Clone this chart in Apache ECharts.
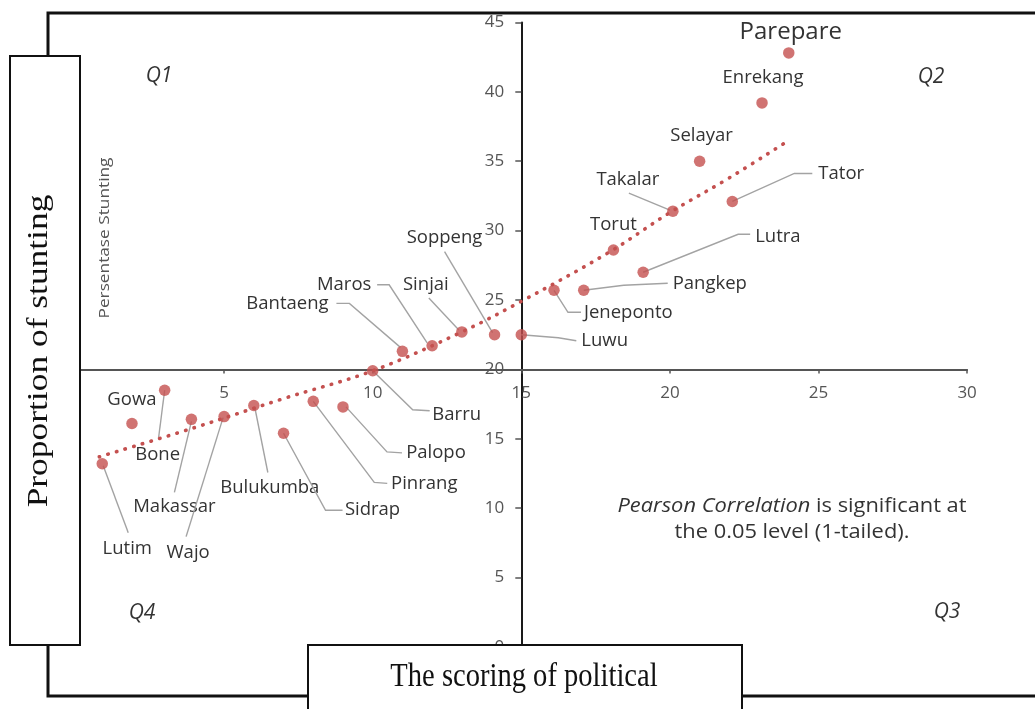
<!DOCTYPE html>
<html>
<head>
<meta charset="utf-8">
<title>Political scoring and stunting</title>
<script src="https://cdn.jsdelivr.net/npm/echarts@6/dist/echarts.min.js"></script>
<style>
  html, body { margin: 0; padding: 0; background: #ffffff; }
  #chart { width: 1035px; height: 709px; }
</style>
</head>
<body>
<div id="chart"></div>
<script>
// District names with their political score (x) and stunting percentage (y)
const districts = ['Lutim', 'Gowa', 'Bone', 'Makassar', 'Wajo', 'Bulukumba', 'Sidrap', 'Pinrang',
  'Palopo', 'Barru', 'Bantaeng', 'Maros', 'Sinjai', 'Soppeng', 'Luwu', 'Jeneponto', 'Pangkep',
  'Torut', 'Lutra', 'Takalar', 'Selayar', 'Tator', 'Enrekang', 'Parepare'];
const politicalScore = [0.9, 1.9, 3.0, 3.9, 5.0, 6.0, 7.0, 8.0, 9.0, 10.0, 11.0, 12.0, 13.0, 14.1,
  15.0, 16.1, 17.1, 18.1, 19.1, 20.1, 21.0, 22.1, 23.1, 24.0];
const stuntingPct = [13.2, 16.1, 18.5, 16.4, 16.6, 17.4, 15.4, 17.7, 17.3, 19.9, 21.3, 21.7, 22.7,
  22.5, 22.5, 25.7, 25.7, 28.6, 27.0, 31.4, 35.0, 32.1, 39.2, 42.8];

// Trend curve sampled along the fitted line
const trendX = [0.8, 4, 7, 10, 13, 15, 18, 20, 22, 24];
const trendY = [13.7, 15.8, 17.9, 19.9, 22.7, 24.9, 28.5, 31.3, 33.8, 36.5];

// Axis scales
const xTicks = [0, 5, 10, 15, 20, 25, 30];
const yTicks = [0, 5, 10, 15, 20, 25, 30, 35, 40, 45];
const xCross = 15;   // where the vertical axis sits
const yCross = 20;   // where the horizontal axis sits

// Annotation text
const quadrantLabels = ['Q1', 'Q2', 'Q3', 'Q4'];
const noteItalic = 'Pearson Correlation';
const noteRest = ' is significant at';
const noteLine2 = 'the 0.05 level (1-tailed).';
const yTitle = 'Proportion of stunting';
const yInnerTitle = 'Persentase Stunting';
const xTitle = 'The scoring of political';

// Label placement (pixel offsets from each point) and leader polylines
const labelLayout = {
  Parepare:  { at: [2, -21], size: 24 },
  Enrekang:  { at: [1, -25] },
  Selayar:   { at: [2, -25] },
  Takalar:   { at: [-45, -31], leader: [[-44, -18], [-3, -1]] },
  Tator:     { at: [86, -28], align: 'left', leader: [[0, 0], [62, -28], [80, -28]] },
  Torut:     { at: [0, -25] },
  Lutra:     { at: [112, -36], align: 'left', leader: [[0, 0], [95, -38], [107, -38]] },
  Pangkep:   { at: [89, -7], align: 'left', leader: [[0, 0], [40, -5], [84, -7]] },
  Jeneponto: { at: [30, 22], align: 'left', leader: [[0, 0], [14, 22], [27, 22]] },
  Luwu:      { at: [60, 6], align: 'left', leader: [[0, 0], [37, 3], [55, 6]] },
  Soppeng:   { at: [-50, -97], leader: [[-50, -83], [-2, -2]] },
  Sinjai:    { at: [-36, -47], leader: [[-33, -34], [-3, -2]] },
  Maros:     { at: [-88, -61], leader: [[-55, -61], [-43, -61], [-5, -3]] },
  Bantaeng:  { at: [-115, -48], leader: [[-66, -48], [-53, -48], [-2, -4]] },
  Barru:     { at: [84, 44], leader: [[0, 0], [40, 39], [57, 40]] },
  Palopo:    { at: [93, 46], leader: [[3, 0], [44, 45], [59, 46]] },
  Pinrang:   { at: [111, 82], leader: [[0, 0], [61, 81], [74, 82]] },
  Sidrap:    { at: [89, 76], leader: [[0, 0], [42, 77], [59, 77]] },
  Bulukumba: { at: [16, 82], leader: [[1, 2], [14, 67]] },
  Makassar:  { at: [-17, 87], leader: [[0, 2], [-17, 73]] },
  Wajo:      { at: [-36, 136], leader: [[-1, 1], [-38, 120]] },
  Lutim:     { at: [25, 85], leader: [[1, 2], [26, 69]] },
  Gowa:      { at: [0, -24] },
  Bone:      { at: [-7, 65], leader: [[0, 0], [-6, 47]] }
};

const SANS = "'Open Sans', 'DejaVu Sans', sans-serif";
const SERIF = "'Liberation Serif', 'DejaVu Serif', serif";
const RED = '#C4504F';

const chart = echarts.init(document.getElementById('chart'), null, { renderer: 'canvas' });

const gridLeft = 75.5, gridTop = 22.4, gridW = 891.6, gridH = 624.6;
const xMin = xTicks[0], xMax = xTicks[xTicks.length - 1];
const yMin = yTicks[0], yMax = yTicks[yTicks.length - 1];
// shift each axis from the grid edge onto the crossing value
const xAxisOffset = -gridH * (yCross - yMin) / (yMax - yMin);
const yAxisOffset = -gridW * (xCross - xMin) / (xMax - xMin);

const points = districts.map((d, i) => [politicalScore[i], stuntingPct[i], i]);

const quadrantText = (label, x, y) => ({
  type: 'text', z: 5, x: x, y: y,
  style: { text: label, align: 'center', verticalAlign: 'middle', font: 'italic 21px ' + SANS, fill: '#333333' }
});

const option = {
  animation: false,
  backgroundColor: '#ffffff',
  grid: { left: gridLeft, top: gridTop, width: gridW, height: gridH, containLabel: false, outerBoundsMode: 'none' },
  xAxis: {
    type: 'value', min: xMin, max: xMax, interval: xTicks[1] - xTicks[0],
    position: 'bottom', offset: xAxisOffset,
    splitLine: { show: false },
    axisLine: { show: true, lineStyle: { color: '#555555', width: 2 } },
    axisTick: { show: true, length: 4, lineStyle: { color: '#555555', width: 1.5 } },
    axisLabel: { show: true, showMinLabel: false, margin: 15, color: '#555555', fontFamily: SANS, fontSize: 17 }
  },
  yAxis: {
    type: 'value', min: yMin, max: yMax, interval: yTicks[1] - yTicks[0],
    position: 'left', offset: yAxisOffset,
    splitLine: { show: false },
    axisLine: { show: true, lineStyle: { color: '#1a1a1a', width: 2 } },
    axisTick: { show: true, length: 6, lineStyle: { color: '#555555', width: 1.5 } },
    axisLabel: { show: true, margin: 17, color: '#555555', fontFamily: SANS, fontSize: 17 }
  },
  series: [
    {
      // leader lines and district names
      type: 'custom',
      z: 1,
      clip: false,
      silent: true,
      encode: { x: 0, y: 1 },
      data: points,
      renderItem: function (params, api) {
        const idx = api.value(2);
        const name = districts[idx];
        const lay = labelLayout[name] || { at: [0, -22] };
        const p = api.coord([api.value(0), api.value(1)]);
        const children = [];
        if (lay.leader) {
          children.push({
            type: 'polyline',
            shape: { points: lay.leader.map(d => [p[0] + d[0], p[1] + d[1]]) },
            style: { stroke: '#a3a3a3', lineWidth: 1.4, fill: null }
          });
        }
        children.push({
          type: 'text',
          x: p[0] + lay.at[0],
          y: p[1] + lay.at[1],
          style: {
            text: name,
            align: lay.align || 'center',
            verticalAlign: 'middle',
            font: (lay.size || 18.5) + 'px ' + SANS,
            fill: '#333333'
          }
        });
        return { type: 'group', children: children };
      }
    },
    {
      type: 'line',
      z: 2,
      silent: true,
      data: trendX.map((x, i) => [x, trendY[i]]),
      showSymbol: false,
      smooth: 0.35,
      lineStyle: { color: RED, width: 3.6, type: [0.5, 8.5], cap: 'round' }
    },
    {
      type: 'scatter',
      z: 3,
      silent: true,
      data: points,
      encode: { x: 0, y: 1 },
      symbol: 'circle',
      symbolSize: 11.5,
      itemStyle: { color: RED }
    }
  ],
  graphic: [
    // outer frame
    { type: 'rect', z: 0, silent: true,
      shape: { x: 48, y: 13, width: 1010, height: 683 },
      style: { fill: null, stroke: '#111111', lineWidth: 3 } },
    // quadrant names
    quadrantText(quadrantLabels[0], 159, 76),
    quadrantText(quadrantLabels[1], 931, 77),
    quadrantText(quadrantLabels[2], 947, 612),
    quadrantText(quadrantLabels[3], 142, 613),
    // correlation note
    { type: 'text', z: 5, x: 792, y: 519, scaleX: 1.12,
      style: {
        text: '{i|' + noteItalic + '}{r|' + noteRest + '}\n{r|' + noteLine2 + '}',
        align: 'center', verticalAlign: 'middle',
        rich: {
          i: { font: 'italic 19.5px ' + SANS, fill: '#333333', lineHeight: 26 },
          r: { font: '19.5px ' + SANS, fill: '#333333', lineHeight: 26 }
        }
      } },
    // inner vertical caption
    { type: 'text', z: 5, x: 105, y: 238, rotation: Math.PI / 2, scaleX: 1.15,
      style: { text: yInnerTitle, align: 'center', verticalAlign: 'middle', font: '15px ' + SANS, fill: '#555555' } },
    // left title box
    { type: 'rect', z: 100, silent: true,
      shape: { x: 10, y: 56, width: 70, height: 589 },
      style: { fill: '#ffffff', stroke: '#111111', lineWidth: 2 } },
    { type: 'text', z: 101, x: 39, y: 351, rotation: Math.PI / 2, scaleX: 1.18,
      style: { text: yTitle, align: 'center', verticalAlign: 'middle', font: '30px ' + SERIF, fill: '#111111' } },
    // bottom title box
    { type: 'rect', z: 100, silent: true,
      shape: { x: 308, y: 645, width: 434, height: 90 },
      style: { fill: '#ffffff', stroke: '#111111', lineWidth: 2 } },
    { type: 'text', z: 101, x: 524, y: 677, scaleX: 0.84,
      style: { text: xTitle, align: 'center', verticalAlign: 'middle', font: '34px ' + SERIF, fill: '#111111' } }
  ]
};

chart.setOption(option);
</script>
</body>
</html>
